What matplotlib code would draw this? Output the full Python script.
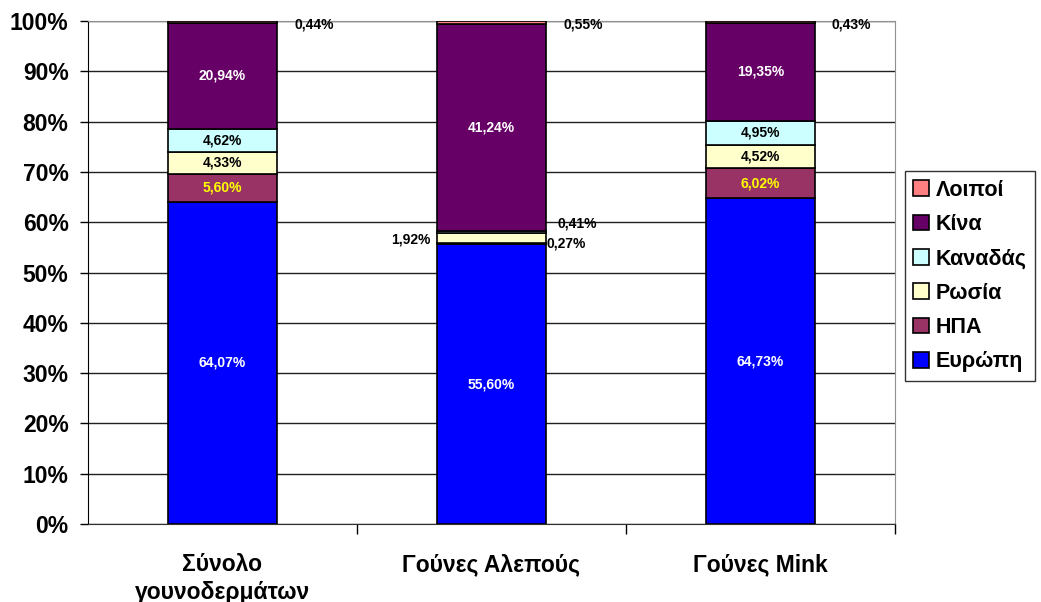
"""
Stacked 100% bar chart: origin of fur imports by category
"""
import matplotlib
matplotlib.use("Agg")
import matplotlib.pyplot as plt
import numpy as np

categories = ["Σύνολο\nγουνοδερμάτων", "Γούνες Αλεπούς", "Γούνες Mink"]
series = ["Ευρώπη", "ΗΠΑ", "Ρωσία", "Καναδάς", "Κίνα", "Λοιποί"]
europe = [64.07, 55.60, 64.73]
usa = [5.60, 0.27, 6.02]
russia = [4.33, 1.92, 4.52]
canada = [4.62, 0.41, 4.95]
china = [20.94, 41.24, 19.35]
others = [0.44, 0.55, 0.43]
y_ticks = [0, 10, 20, 30, 40, 50, 60, 70, 80, 90, 100]

colors = ["#0000FF", "#993366", "#FFFFCC", "#CCFFFF", "#660066", "#FF8080"]
label_colors = ["white", "#FFFF00", "black", "black", "white", "black"]

plt.rcParams['font.family'] = ['Liberation Sans', 'DejaVu Sans']

fig = plt.figure(figsize=(10.41, 6.02), dpi=100)
ax = fig.add_axes([0.0845, 0.1296, 0.775, 0.8354])

x = np.arange(len(categories))
width = 0.405
data = [europe, usa, russia, canada, china, others]
bottom = np.zeros(len(categories))
bars = []
for vals, name, col in zip(data, series, colors):
    ax.bar(x, vals, width, bottom=bottom, color=col, edgecolor='black',
           linewidth=1.2, label=name, zorder=3)
    bars.append((np.array(vals), bottom.copy()))
    bottom = bottom + np.array(vals)

def fmt(v):
    return f"{v:.2f}%".replace('.', ',')

lab_fs = 10
# labels inside bars (big segments)
for s, (vals, bot) in enumerate(bars):
    for i in range(len(categories)):
        v = vals[i]
        if s == 5:
            # "others" next to the top of the bar
            ax.text(x[i] + 0.34, 99.4, fmt(v), ha='center', va='center',
                    fontsize=lab_fs, fontweight='bold', color='black', zorder=4)
        elif v > 3:
            ax.text(x[i], bot[i] + v / 2, fmt(v), ha='center', va='center',
                    fontsize=lab_fs, fontweight='bold', color=label_colors[s], zorder=4)

# small segments of the middle bar, labelled outside
i = 1
ax.text(x[i] - 0.30, bars[2][1][i] + bars[2][0][i] / 2 - 0.3, fmt(russia[i]),
        ha='center', va='center', fontsize=lab_fs, fontweight='bold', zorder=4)
ax.text(x[i] + 0.32, bars[3][1][i] + 2.0, fmt(canada[i]),
        ha='center', va='center', fontsize=lab_fs, fontweight='bold', zorder=4)
ax.text(x[i] + 0.28, bars[1][1][i] + 0.1, fmt(usa[i]),
        ha='center', va='center', fontsize=lab_fs, fontweight='bold', zorder=4)

ax.set_xlim(-0.5, 2.5)
ax.set_ylim(0, 100)
ax.set_yticks(y_ticks)
ax.set_yticklabels([f"{t}%" for t in y_ticks], fontsize=16.5, fontweight='bold')
ax.yaxis.grid(True, color='#202020', linewidth=1.0, zorder=0)
ax.set_axisbelow(True)

ax.set_xticks(x)
ax.set_xticklabels(categories, fontsize=16.5, fontweight='bold', linespacing=1.25)
ax.set_xticks([0.5, 1.5, 2.5], minor=True)
ax.tick_params(axis='x', which='major', length=0, pad=21)
ax.tick_params(axis='x', which='minor', length=7, width=1, color='black', direction='out')
ax.tick_params(axis='y', length=6, width=1, color='black', pad=8)

ax.spines['left'].set_color('black')
ax.spines['bottom'].set_color('#303030')
ax.spines['top'].set_color('#909090')
ax.spines['right'].set_color('#909090')

handles, labels = ax.get_legend_handles_labels()
leg = fig.legend(handles[::-1], labels[::-1], loc='upper left',
                 bbox_to_anchor=(0.869, 0.716), frameon=True,
                 fancybox=False, edgecolor='black', handlelength=0.75,
                 handleheight=0.75, handletextpad=0.3, labelspacing=0.62,
                 borderpad=0.4, borderaxespad=0.0,
                 prop={'weight': 'bold', 'size': 15.5})
leg.get_frame().set_linewidth(1.0)

fig.savefig("out.png", dpi=100)
